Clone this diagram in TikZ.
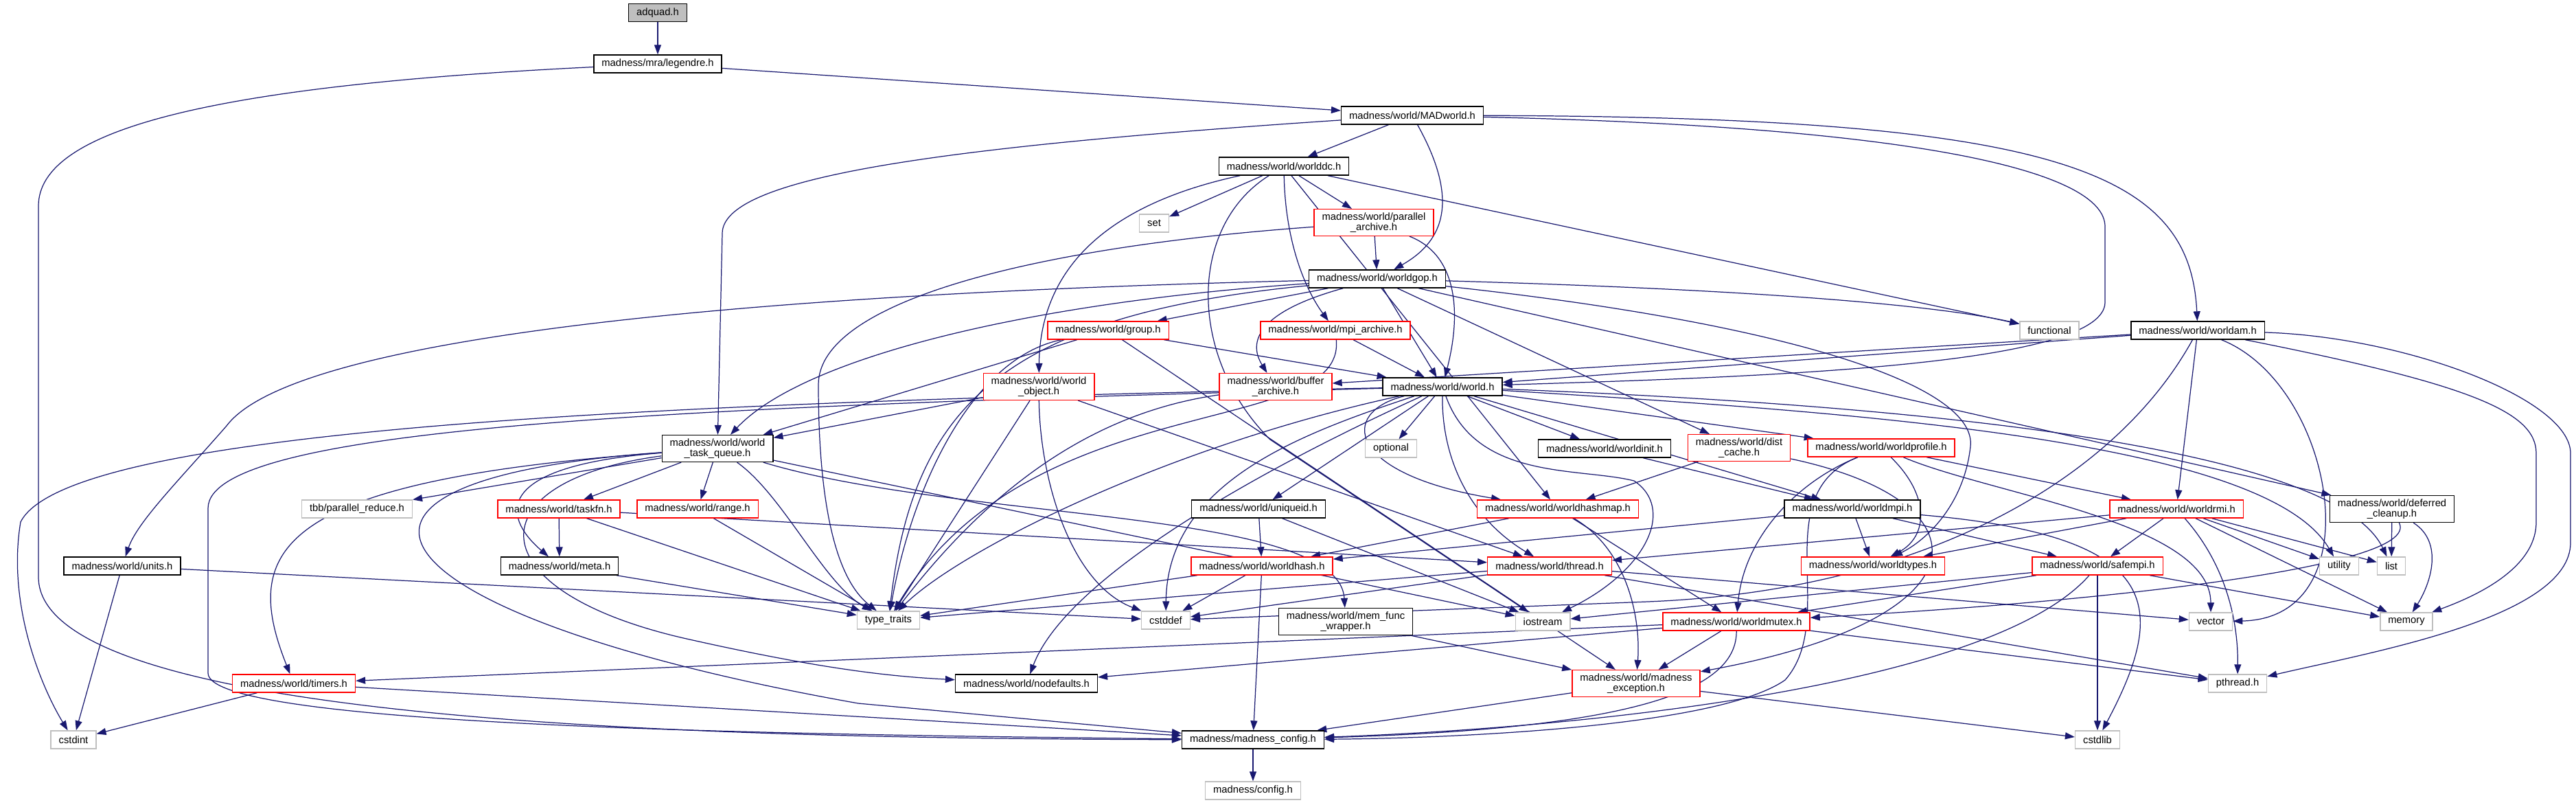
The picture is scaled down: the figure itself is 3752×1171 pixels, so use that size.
\documentclass[tikz,border=0pt]{standalone}
\usepackage{fontspec}
\setmainfont{Liberation Sans}
\usetikzlibrary{arrows.meta,backgrounds}
\definecolor{EdgeBlue}{HTML}{191970}
\definecolor{SysGray}{HTML}{BFBFBF}
\definecolor{TruncRed}{HTML}{FF0000}

\begin{document}
\begin{tikzpicture}[x=0.02cm, y=-0.02cm,
    every node/.style={font=\fontsize{8.4}{8.6}\selectfont, inner xsep=0.23cm, inner ysep=0.1cm,
                       minimum height=0.52cm, align=center, fill=white, line width=0.8pt},
    hdr/.style={draw=black},
    trunc/.style={draw=TruncRed},
    sysfile/.style={draw=SysGray},
    topfile/.style={draw=black, fill=SysGray},
    dep/.style={-{Triangle[length=0.28cm,width=0.2cm]}, draw=EdgeBlue, line width=0.7pt}]
    \useasboundingbox (0,0) rectangle (3752,1171);

    % rows, top to bottom
    \node[topfile] (adquad) at (958,18.5) {adquad.h};
    \node[hdr] (legendre) at (958,93) {madness/mra/legendre.h};
    \node[hdr] (madworld) at (2057,168) {madness/world/MADworld.h};
    \node[hdr] (worlddc) at (1870,242) {madness/world/worlddc.h};
    \node[sysfile] (set) at (1681,325) {set};
    \node[trunc] (parallel) at (2001,324) {madness/world/parallel\\\_archive.h};
    \node[hdr] (worldgop) at (2006,406) {madness/world/worldgop.h};
    \node[trunc] (group) at (1614,481) {madness/world/group.h};
    \node[trunc] (mpiarch) at (1945,481) {madness/world/mpi\_archive.h};
    \node[sysfile] (functional) at (2985,481) {functional};
    \node[hdr] (worldam) at (3201,481) {madness/world/worldam.h};
    \node[trunc] (worldobj) at (1513,563) {madness/world/world\\\_object.h};
    \node[trunc] (bufarch) at (1858,563) {madness/world/buffer\\\_archive.h};
    \node[hdr] (world) at (2101,563) {madness/world/world.h};
    \node[hdr] (taskq) at (1045,653) {madness/world/world\\\_task\_queue.h};
    \node[sysfile] (optional) at (2026,653) {optional};
    \node[hdr] (worldinit) at (2337,653) {madness/world/worldinit.h};
    \node[trunc] (distcache) at (2533,652) {madness/world/dist\\\_cache.h};
    \node[trunc] (worldprofile) at (2740,652) {madness/world/worldprofile.h};
    \node[sysfile] (tbb) at (520,741) {tbb/parallel\_reduce.h};
    \node[trunc] (taskfn) at (814,741) {madness/world/taskfn.h};
    \node[trunc] (range) at (1016,741) {madness/world/range.h};
    \node[hdr] (uniqueid) at (1833,741) {madness/world/uniqueid.h};
    \node[trunc] (worldhashmap) at (2269,741) {madness/world/worldhashmap.h};
    \node[hdr] (worldmpi) at (2698,741) {madness/world/worldmpi.h};
    \node[trunc] (worldrmi) at (3170,741) {madness/world/worldrmi.h};
    \node[hdr] (deferred) at (3484,741) {madness/world/deferred\\\_cleanup.h};
    \node[hdr] (units) at (178,824) {madness/world/units.h};
    \node[hdr] (meta) at (815,824) {madness/world/meta.h};
    \node[trunc] (worldhash) at (1838,824) {madness/world/worldhash.h};
    \node[trunc] (thread) at (2257,824) {madness/world/thread.h};
    \node[trunc] (worldtypes) at (2728,824) {madness/world/worldtypes.h};
    \node[trunc] (safempi) at (3055,824) {madness/world/safempi.h};
    \node[sysfile] (utility) at (3407,824) {utility};
    \node[sysfile] (list) at (3483,824) {list};
    \node[sysfile] (typetraits) at (1294,903) {type\_traits};
    \node[sysfile] (cstddef) at (1698,903) {cstddef};
    \node[hdr] (memfunc) at (1960,905) {madness/world/mem\_func\\\_wrapper.h};
    \node[sysfile] (iostream) at (2247,905) {iostream};
    \node[trunc] (worldmutex) at (2529,905) {madness/world/worldmutex.h};
    \node[sysfile] (vector) at (3220,905) {vector};
    \node[sysfile] (memory) at (3505,905) {memory};
    \node[trunc] (timers) at (428,995) {madness/world/timers.h};
    \node[hdr] (nodefaults) at (1495,995) {madness/world/nodefaults.h};
    \node[trunc] (mexception) at (2383,995) {madness/world/madness\\\_exception.h};
    \node[sysfile] (pthread) at (3259,995) {pthread.h};
    \node[sysfile] (cstdint) at (107,1077) {cstdint};
    \node[hdr] (mconfig) at (1825,1077) {madness/madness\_config.h};
    \node[sysfile] (cstdlib) at (3055,1077) {cstdlib};
    \node[sysfile] (config) at (1825,1151) {madness/config.h};

    \begin{pgfonlayer}{background}
    % plain includes
    \foreach \a/\b in {adquad/legendre, legendre/madworld, madworld/worlddc, worlddc/set,
        worlddc/parallel, worlddc/functional, worlddc/worldhashmap, parallel/worldgop,
        worldgop/group, worldgop/world, worldgop/distcache, worldgop/deferred,
        group/world, group/taskq, group/mexception, mpiarch/world,
        worldobj/taskq, worldobj/thread, worldobj/typetraits,
        worldam/bufarch, worldam/world, worldam/worldrmi,
        world/optional, world/worldinit, world/uniqueid, world/worldprofile, world/worldmpi,
        worldinit/worldmpi, distcache/worldhashmap, worldprofile/worldrmi,
        taskq/tbb, taskq/taskfn, taskq/range, taskq/iostream,
        taskfn/meta, taskfn/typetraits, taskfn/thread, range/typetraits, meta/typetraits,
        units/cstdint, units/cstddef, uniqueid/worldhash, uniqueid/iostream,
        worldhashmap/worldhash, worldhashmap/worldmutex,
        worldhash/typetraits, worldhash/cstddef, worldhash/mconfig,
        thread/typetraits, thread/cstddef, thread/vector, thread/pthread,
        worldmpi/worldtypes, worldmpi/safempi, worldmpi/worldhash,
        worldrmi/worldtypes, worldrmi/safempi, worldrmi/utility, worldrmi/list,
        worldrmi/memory, worldrmi/thread, deferred/list,
        safempi/worldmutex, safempi/memory, safempi/cstdlib, safempi/iostream,
        worldmutex/mexception, worldmutex/pthread, worldmutex/timers, worldmutex/nodefaults,
        memfunc/mexception, mexception/mconfig, mexception/cstdlib,
        timers/cstdint, timers/mconfig, mconfig/config}
      \draw[dep] (\a) -- (\b);

    % long routed includes
    \draw[dep] (legendre) .. controls (300,125) and (56,190) .. (56,300) -- (56,840)
        .. controls (56,1050) and (1000,1075) .. (mconfig);
    \draw[dep] (madworld) .. controls (2800,185) and (3066,250) .. (3066,330) -- (3066,440)
        .. controls (3066,530) and (2600,548) .. (world);
    \draw[dep] (madworld) .. controls (3000,170) and (3190,250) .. (worldam);
    \draw[dep] (madworld) .. controls (1350,215) and (1052,260) .. (1052,340) -- (taskq);
    \draw[dep] (madworld) .. controls (2125,290) and (2105,350) .. (worldgop);
    \draw[dep] (worlddc) .. controls (1600,300) and (1515,400) .. (worldobj);
    \draw[dep] (worlddc) .. controls (1872,350) and (1900,420) .. (mpiarch);
    \draw[dep] (worlddc) .. controls (1730,330) and (1730,520) .. (1850,640) -- (iostream);
    \draw[dep] (parallel) .. controls (2120,370) and (2130,450) .. (world);
    \draw[dep] (parallel) .. controls (1500,360) and (1192,440) .. (1192,560)
        .. controls (1192,800) and (1240,860) .. (typetraits);
    \draw[dep] (worldgop) .. controls (1000,430) and (420,500) .. (330,620)
        .. controls (260,700) and (200,760) .. (units);
    \draw[dep] (worldgop) .. controls (1500,440) and (1170,520) .. (taskq);
    \draw[dep] (worldgop) .. controls (1450,460) and (1330,600) .. (typetraits);
    \draw[dep] (worldgop) .. controls (1810,460) and (1825,510) .. (bufarch);
    \draw[dep] (worldgop) .. controls (2500,420) and (2800,440) .. (functional);
    \draw[dep] (worldgop) .. controls (2600,470) and (2880,560) .. (2870,650)
        .. controls (2860,740) and (2800,790) .. (worldtypes);
    \draw[dep] (group) .. controls (1420,520) and (1330,700) .. (typetraits);
    \draw[dep] (mpiarch) .. controls (1960,640) and (1500,560) .. (typetraits);
    \draw[dep] (worldobj) .. controls (1515,700) and (1560,850) .. (cstddef);
    \draw[dep] (bufarch) .. controls (1600,600) and (1450,700) .. (typetraits);
    \draw[dep] (world) .. controls (1950,600) and (1960,690) .. (worldhashmap);
    \draw[dep] (world) .. controls (2100,680) and (2150,760) .. (thread);
    \draw[dep] (world) .. controls (2150,700) and (2300,680) .. (2380,700)
        .. controls (2440,740) and (2400,830) .. (iostream);
    \draw[dep] (world) .. controls (2700,600) and (3300,640) .. (utility);
    \draw[dep] (world) .. controls (2800,590) and (3400,650) .. (list);
    \draw[dep] (world) .. controls (1900,630) and (1700,700) .. (cstddef);
    \draw[dep] (world) .. controls (1700,650) and (1400,800) .. (typetraits);
    \draw[dep] (world) .. controls (1800,700) and (1550,850) .. (nodefaults);
    \draw[dep] (world) .. controls (1000,585) and (100,620) .. (30,760)
        .. controls (10,880) and (60,1000) .. (cstdint);
    \draw[dep] (world) .. controls (1000,592) and (303,620) .. (303,740) -- (303,980)
        .. controls (303,1060) and (1200,1070) .. (mconfig);
    \draw[dep] (worldam) .. controls (3080,700) and (2800,860) .. (2400,876) -- (cstddef);
    \draw[dep] (worldam) .. controls (3400,560) and (3460,900) .. (vector);
    \draw[dep] (worldam) .. controls (3600,560) and (3694,600) .. (3694,660) -- (3694,760)
        .. controls (3694,830) and (3600,870) .. (memory);
    \draw[dep] (worldam) .. controls (3500,490) and (3744,580) .. (3744,660) -- (3744,790)
        .. controls (3744,900) and (3450,950) .. (pthread);
    \draw[dep] (worldrmi) .. controls (3240,820) and (3260,900) .. (pthread);
    \draw[dep] (worldprofile) .. controls (2620,700) and (2540,780) .. (worldmutex);
    \draw[dep] (worldprofile) .. controls (2810,720) and (2810,780) .. (worldtypes);
    \draw[dep] (worldprofile) .. controls (2900,720) and (3220,760) .. (vector);
    \draw[dep] (worldprofile) .. controls (2570,720) and (2680,900) .. (2600,990)
        .. controls (2500,1060) and (2100,1075) .. (mconfig);
    \draw[dep] (distcache) .. controls (2900,730) and (2900,900) .. (mexception);
    \draw[dep] (worldmpi) .. controls (3150,780) and (3160,880) .. (cstdlib);
    \draw[dep] (safempi) .. controls (2900,1000) and (2300,1060) .. (mconfig);
    \draw[dep] (deferred) .. controls (3530,830) and (3000,880) .. (worldmutex);
    \draw[dep] (deferred) .. controls (3560,790) and (3540,850) .. (memory);
    \draw[dep] (worldmutex) .. controls (2530,1000) and (2400,1060) .. (mconfig);
    \draw[dep] (taskq) .. controls (700,680) and (740,760) .. (meta);
    \draw[dep] (taskq) .. controls (400,700) and (350,800) .. (timers);
    \draw[dep] (taskq) .. controls (380,700) and (550,900) .. (1250,1024) -- (mconfig);
    \draw[dep] (taskq) .. controls (690,700) and (690,860) .. (1000,930)
        .. controls (1200,975) and (1300,985) .. (nodefaults);
    \draw[dep] (taskq) .. controls (1400,760) and (1950,740) .. (memfunc);
    \draw[dep] (taskq) .. controls (1140,720) and (1200,850) .. (typetraits);
    \draw[dep] (worldhashmap) .. controls (2370,800) and (2390,900) .. (mexception);
    \end{pgfonlayer}
\end{tikzpicture}
\end{document}
